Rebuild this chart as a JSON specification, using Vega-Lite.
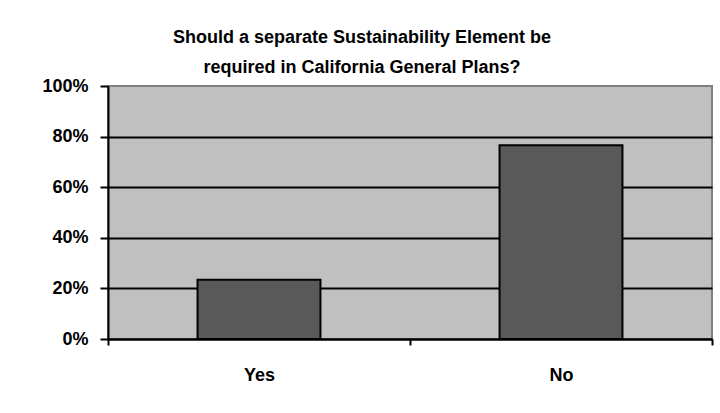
{
  "$schema": "https://vega.github.io/schema/vega-lite/v6.json",
  "autosize": {"type": "none"},
  "width": 604,
  "height": 253,
  "padding": {"left": 108, "top": 86, "right": 8, "bottom": 74},
  "background": "white",
  "title": {
    "text": ["Should a separate Sustainability Element be", "required in California General Plans?"],
    "font": "Liberation Sans",
    "fontSize": 18,
    "fontWeight": "bold",
    "color": "black",
    "lineHeight": 30,
    "anchor": "middle",
    "dx": -48,
    "offset": 0
  },
  "data": {
    "values": [
      {"answer": "Yes", "share": 0.234},
      {"answer": "No", "share": 0.766}
    ]
  },
  "mark": {"type": "bar", "color": "#595959", "stroke": "black", "strokeWidth": 2, "width": {"band": 0.407}},
  "encoding": {
    "x": {
      "field": "answer",
      "type": "nominal",
      "sort": ["Yes", "No"],
      "scale": {"paddingInner": 0, "paddingOuter": 0},
      "axis": {
        "title": null,
        "labelAngle": 0,
        "labelFont": "Liberation Sans",
        "labelFontSize": 18,
        "labelFontWeight": "bold",
        "labelColor": "black",
        "labelPadding": 21,
        "tickBand": "extent",
        "tickSize": 6,
        "tickWidth": 2,
        "tickColor": "black",
        "domainColor": "black",
        "domainWidth": 2,
        "grid": false
      }
    },
    "y": {
      "field": "share",
      "type": "quantitative",
      "scale": {"domain": [0, 1]},
      "axis": {
        "title": null,
        "format": "%",
        "values": [0, 0.2, 0.4, 0.6, 0.8, 1],
        "labelFont": "Liberation Sans",
        "labelFontSize": 18,
        "labelFontWeight": "bold",
        "labelColor": "black",
        "labelPadding": 12,
        "tickSize": 8,
        "tickWidth": 2,
        "tickColor": "black",
        "domainColor": "black",
        "domainWidth": 2,
        "grid": true,
        "gridColor": "black",
        "gridWidth": 2,
        "gridOpacity": {"condition": {"test": "datum.value >= 1", "value": 0}, "value": 1}
      }
    }
  },
  "config": {
    "view": {"fill": "#C0C0C0", "stroke": "#808080", "strokeWidth": 2}
  }
}
